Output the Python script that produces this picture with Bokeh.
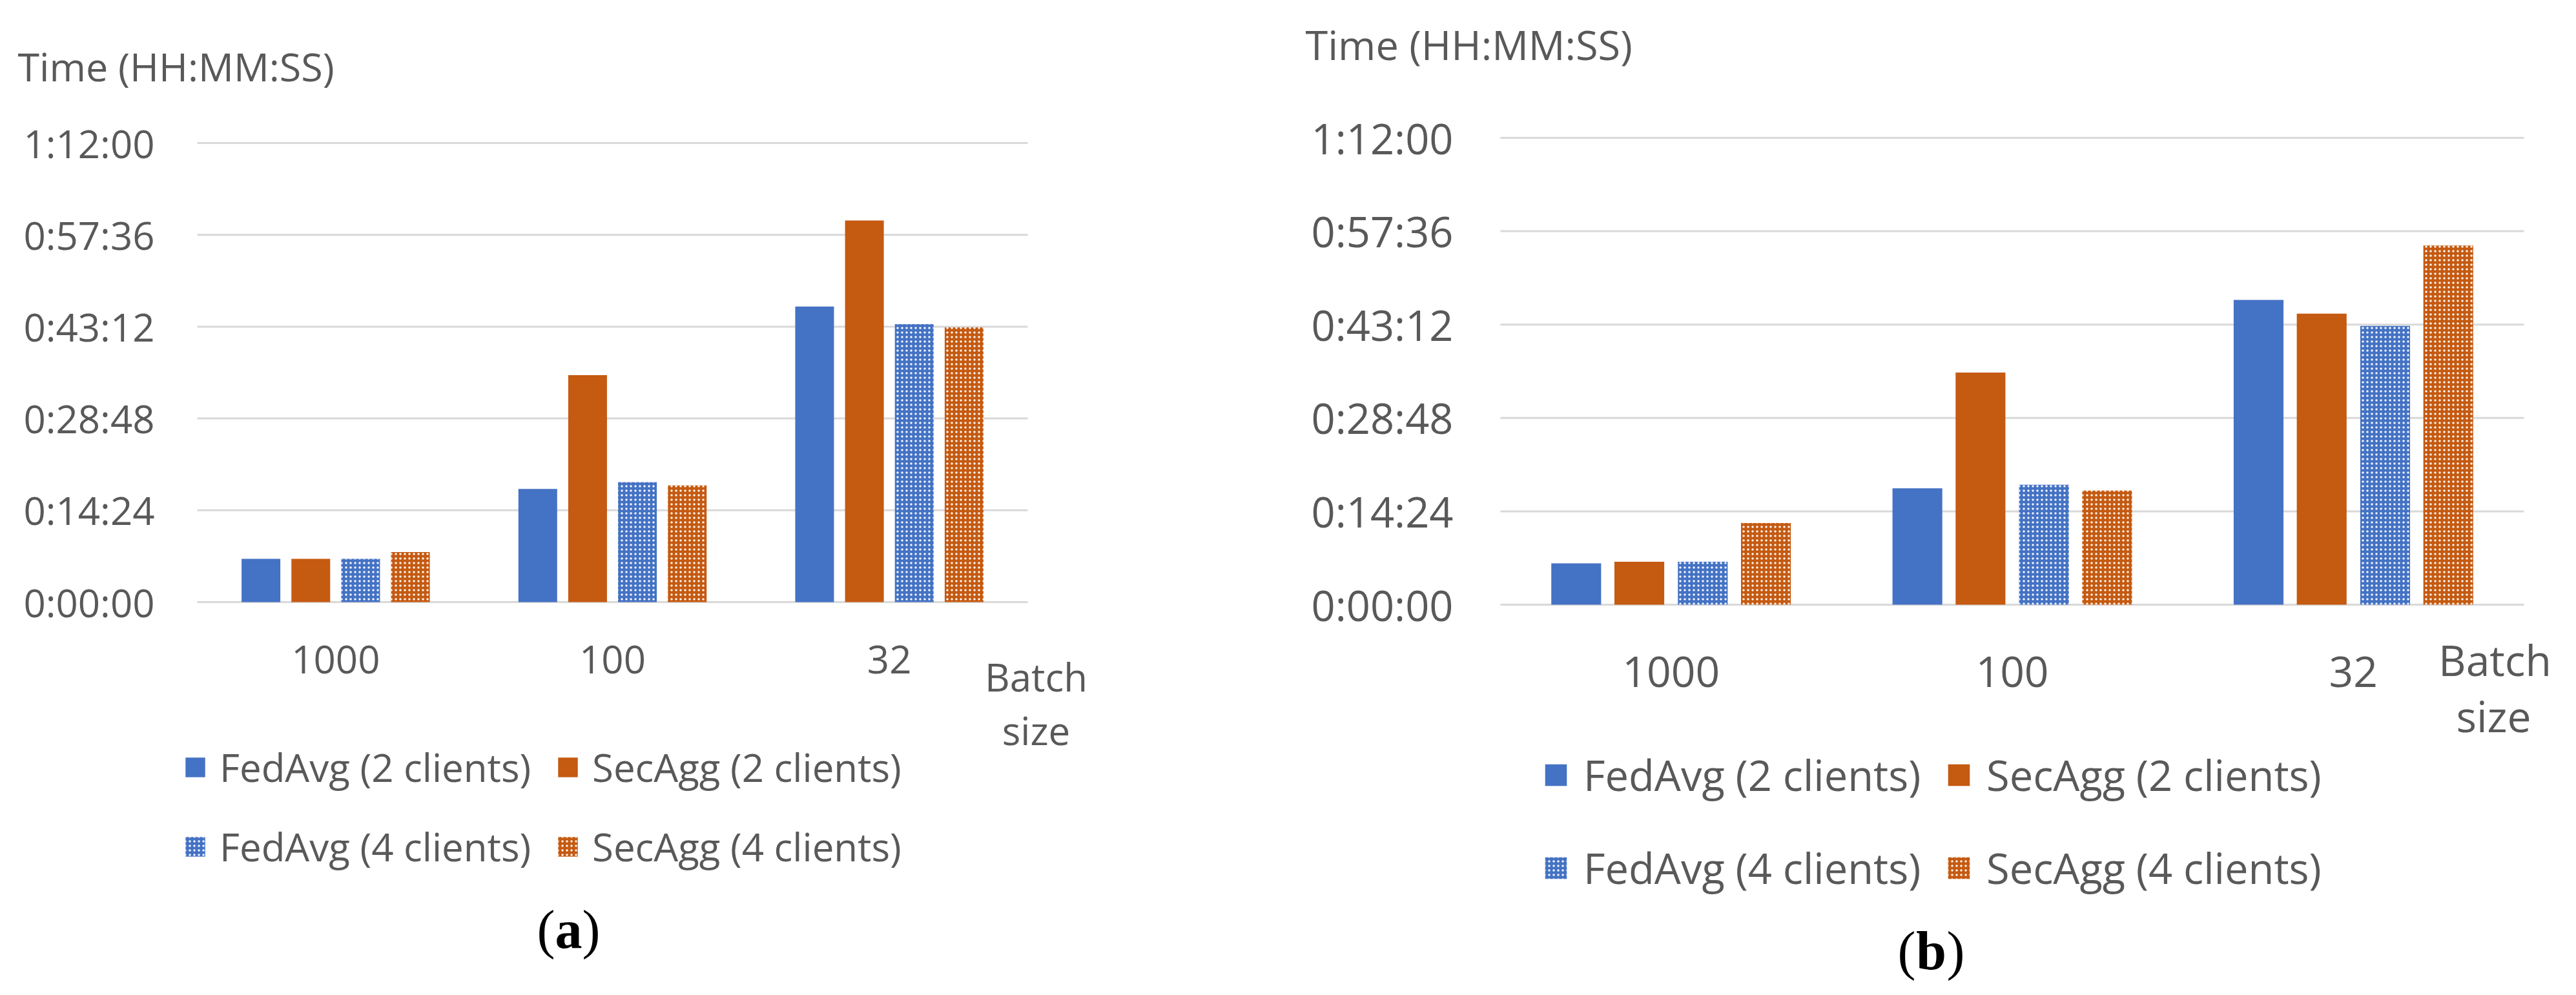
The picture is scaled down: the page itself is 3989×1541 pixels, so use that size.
from bokeh.plotting import figure
from bokeh.models import (Range1d, FixedTicker, Legend, LegendItem, Label, ColumnDataSource)
from bokeh.layouts import row
from bokeh.embed import file_html
from bokeh.resources import INLINE

# ---------------- data ----------------
batch_sizes = ["1000", "100", "32"]
series_names = ["FedAvg (2 clients)", "SecAgg (2 clients)",
                "FedAvg (4 clients)", "SecAgg (4 clients)"]

# times in seconds, panel (a)
a_fedavg2 = [407, 1065, 2781]
a_secagg2 = [407, 2136, 3591]
a_fedavg4 = [407, 1128, 2616]
a_secagg4 = [471, 1098, 2586]

# times in seconds, panel (b)
b_fedavg2 = [382, 1077, 2820]
b_secagg2 = [397, 2148, 2694]
b_fedavg4 = [397, 1110, 2580]
b_secagg4 = [756, 1056, 3324]

tick_values = [0, 864, 1728, 2592, 3456, 4320]
tick_labels = ["0:00:00", "0:14:24", "0:28:48", "0:43:12", "0:57:36", "1:12:00"]
y_title = "Time (HH:MM:SS)"
x_title = ["Batch", "size"]
captions = ["a", "b"]

BLUE = "#4472C4"
ORANGE = "#C55A11"
TXT = "#595959"
FONT = "Open Sans"
SERIF = "Liberation Serif"

styles = [
    dict(color=BLUE, hatch=None),
    dict(color=ORANGE, hatch=None),
    dict(color=BLUE, hatch="dot"),
    dict(color=ORANGE, hatch="dot"),
]

FIG_H = 1525
PAGE_TOP = 8


def make_panel(values, caption, cfg):
    fl, fr = cfg["fig_x"]                 # page x of figure left / right
    pl, pr = cfg["plot_x"]                # page x of plot area left / right
    ptop, pbot = cfg["plot_y"]            # page y of top gridline / baseline
    fb = PAGE_TOP + FIG_H                 # page y of figure bottom
    ux = (pr - pl) / len(batch_sizes)     # px per category
    uy = (pbot - ptop) / tick_values[-1]  # px per second

    p = figure(x_range=Range1d((fl - pl) / ux, (fr - pl) / ux),
               y_range=Range1d(-(fb - pbot) / uy, (pbot - PAGE_TOP) / uy),
               width=fr - fl, height=FIG_H, title=None,
               output_backend="svg", toolbar_location=None,
               min_border_left=0, min_border_right=0,
               min_border_top=0, min_border_bottom=0,
               background_fill_color="white", border_fill_color="white")
    p.outline_line_color = None

    def sx(X):
        return X - fl

    def sy(Y):
        return fb - Y

    n = len(batch_sizes)
    centers = [i + 0.5 for i in range(n)]

    # gridlines over the plot area
    p.segment(x0=[0] * len(tick_values), x1=[n] * len(tick_values),
              y0=tick_values, y1=tick_values, line_color="#D9D9D9", line_width=3)

    renderers = []
    for i, st in enumerate(styles):
        src = ColumnDataSource(dict(x=[c + cfg["off"][i] for c in centers],
                                    top=values[i]))
        kw = dict(fill_color=st["color"], line_color=None)
        if st["hatch"]:
            kw.update(hatch_pattern=st["hatch"], hatch_color="white",
                      hatch_scale=cfg["hs"], hatch_weight=1.0, hatch_alpha=0.95)
        r = p.vbar(x="x", top="top", width=cfg["bw"], source=src, **kw)
        renderers.append(r)

    # axes (fixed inside the full-canvas frame)
    p.yaxis.fixed_location = 0
    p.xaxis.fixed_location = 0
    p.yaxis.ticker = FixedTicker(ticks=tick_values)
    p.yaxis.major_label_overrides = {v: l for v, l in zip(tick_values, tick_labels)}
    p.xaxis.ticker = FixedTicker(ticks=centers)
    p.xaxis.major_label_overrides = {c: b for c, b in zip(centers, batch_sizes)}
    for ax in (p.xaxis[0], p.yaxis[0]):
        ax.axis_line_color = None
        ax.major_tick_line_color = None
        ax.minor_tick_line_color = None
        ax.major_tick_out = 0
        ax.major_tick_in = 0
        ax.major_label_text_font = FONT
        ax.major_label_text_color = TXT
    p.yaxis.major_label_text_font_size = cfg["tick_fs"]
    p.yaxis.major_label_standoff = cfg["ystand"]
    p.xaxis.major_label_text_font_size = cfg["cat_fs"]
    p.xaxis.major_label_standoff = cfg["xstand"]
    p.xgrid.visible = False
    p.ygrid.visible = False

    # y title
    tx, ty = cfg["title_xy"]
    p.add_layout(Label(x=sx(tx), y=sy(ty), x_units="screen", y_units="screen",
                       text=y_title, text_font=FONT, text_font_size=cfg["title_fs"],
                       text_color=TXT, text_baseline="alphabetic", text_align="left"))
    # x title (two lines)
    for txt, (x, y) in zip(x_title, cfg["xt_xy"]):
        p.add_layout(Label(x=sx(x), y=sy(y), x_units="screen", y_units="screen", text=txt,
                           text_font=FONT, text_font_size=cfg["cat_fs"], text_color=TXT,
                           text_baseline="alphabetic", text_align="center"))

    # legend: two rows
    items = [LegendItem(label=nm, renderers=[r]) for nm, r in zip(series_names, renderers)]
    for k, bottom in enumerate(cfg["leg_bottom"]):
        leg = Legend(items=items[2 * k:2 * k + 2], orientation="horizontal",
                     location=(sx(cfg["leg_x"]), sy(bottom)), glyph_width=cfg["gw"],
                     glyph_height=cfg["gw"], label_standoff=cfg["lstand"],
                     label_width=cfg["lw"], spacing=0, padding=0, margin=0,
                     border_line_color=None, background_fill_alpha=0,
                     label_text_font=FONT, label_text_font_size=cfg["leg_fs"],
                     label_text_color=TXT, label_height=cfg["gw"])
        p.add_layout(leg, "center")

    # caption
    cx, cy = cfg["cap_xy"]
    half = cfg["cap_half"]
    common = dict(x_units="screen", y_units="screen", text_font=SERIF,
                  text_font_size="84px", text_color="black", text_baseline="alphabetic")
    p.add_layout(Label(x=sx(cx - half), y=sy(cy), text="(", text_align="right", **common))
    p.add_layout(Label(x=sx(cx), y=sy(cy), text=caption, text_font_style="bold",
                       text_align="center", **common))
    p.add_layout(Label(x=sx(cx + half), y=sy(cy), text=")", text_align="left", **common))
    return p


cfg_a = dict(fig_x=(8, 1990), plot_x=(313, 1599), plot_y=(229, 940),
             bw=0.14, off=[-0.27, -0.09, 0.09, 0.27], hs=7,
             tick_fs="60px", ystand=66, cat_fs="60px", xstand=67,
             title_fs="61px", title_xy=(35, 110),
             xt_xy=[(1612, 1055), (1612, 1138)],
             leg_x=291, leg_bottom=[1237, 1360], gw=38, lstand=19, lw=520,
             leg_fs="60px", cap_xy=(888, 1447), cap_half=21)

cfg_b = dict(fig_x=(1990, 3970), plot_x=(2331, 3916), plot_y=(221, 944),
             bw=0.146, off=[-0.278, -0.093, 0.093, 0.278], hs=7,
             tick_fs="65px", ystand=73, cat_fs="66px", xstand=80,
             title_fs="63px", title_xy=(2029, 76),
             xt_xy=[(3871, 1028), (3869, 1115)],
             leg_x=2396, leg_bottom=[1252, 1396], gw=42, lstand=22, lw=560,
             leg_fs="65px", cap_xy=(2998, 1480), cap_half=24)

pa = make_panel([a_fedavg2, a_secagg2, a_fedavg4, a_secagg4], captions[0], cfg_a)
pb = make_panel([b_fedavg2, b_secagg2, b_fedavg4, b_secagg4], captions[1], cfg_b)

layout = row(pa, pb)
open("out.html", "w").write(file_html(layout, INLINE))
